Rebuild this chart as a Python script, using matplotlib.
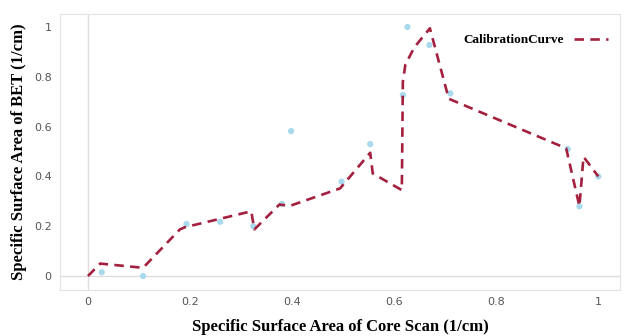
import matplotlib
matplotlib.use("Agg")
import matplotlib.pyplot as plt

# calibration curve (dashed)
curve_x = [0, 0.024, 0.108, 0.18, 0.19, 0.32, 0.326, 0.375, 0.396, 0.494,
           0.553, 0.558, 0.615, 0.617, 0.622, 0.64, 0.67, 0.707, 0.937,
           0.963, 0.971, 1.0]
curve_y = [0, 0.05, 0.033, 0.187, 0.196, 0.26, 0.187, 0.287, 0.282, 0.352,
           0.495, 0.412, 0.345, 0.78, 0.85, 0.92, 0.995, 0.712, 0.513,
           0.28, 0.479, 0.40]

# measured points
pts_x = [0.027, 0.108, 0.193, 0.259, 0.324, 0.38, 0.398, 0.497, 0.553,
         0.617, 0.626, 0.669, 0.71, 0.94, 0.963, 1.0]
pts_y = [0.015, 0.0, 0.209, 0.218, 0.2, 0.29, 0.582, 0.379, 0.53,
         0.727, 1.0, 0.928, 0.734, 0.51, 0.28, 0.40]

ticks = [0, 0.2, 0.4, 0.6, 0.8, 1]
tick_labels = ["0", "0.2", "0.4", "0.6", "0.8", "1"]

fig = plt.figure(figsize=(6.24, 3.36), dpi=100)
ax = fig.add_axes([0.096, 0.137, 0.898, 0.821])

ax.axhline(0, color="#dddddd", lw=1, zorder=0)
ax.axvline(0, color="#dddddd", lw=1, zorder=0)

ax.scatter(pts_x, pts_y, s=20, color="#a9d9ec", edgecolors="none", zorder=2)
ax.plot(curve_x, curve_y, color="#a3203f", lw=1.9, dashes=(3.6, 2.4),
        label="CalibrationCurve", zorder=3)

ax.set_xlim(-0.055, 1.043)
ax.set_ylim(-0.056, 1.052)
ax.set_xticks(ticks)
ax.set_xticklabels(tick_labels)
ax.set_yticks(ticks)
ax.set_yticklabels(tick_labels)
ax.tick_params(length=0, labelsize=8, labelcolor="#555555")
ax.tick_params(axis="x", pad=5)
ax.tick_params(axis="y", pad=6)

for s in ax.spines.values():
    s.set_color("#e3e3e3")

serif = {"family": "Liberation Serif", "weight": "bold", "size": 12}
ax.set_xlabel("Specific Surface Area of Core Scan (1/cm)", fontdict=serif, labelpad=9)
ax.set_ylabel("Specific Surface Area of BET (1/cm)", fontdict=serif, labelpad=5)

ax.legend(loc="upper right", frameon=False, markerfirst=False, handlelength=2.6,
          prop={"family": "Liberation Serif", "weight": "bold", "size": 9.5},
          bbox_to_anchor=(1.0, 0.97))

fig.savefig("out.png", dpi=100)
